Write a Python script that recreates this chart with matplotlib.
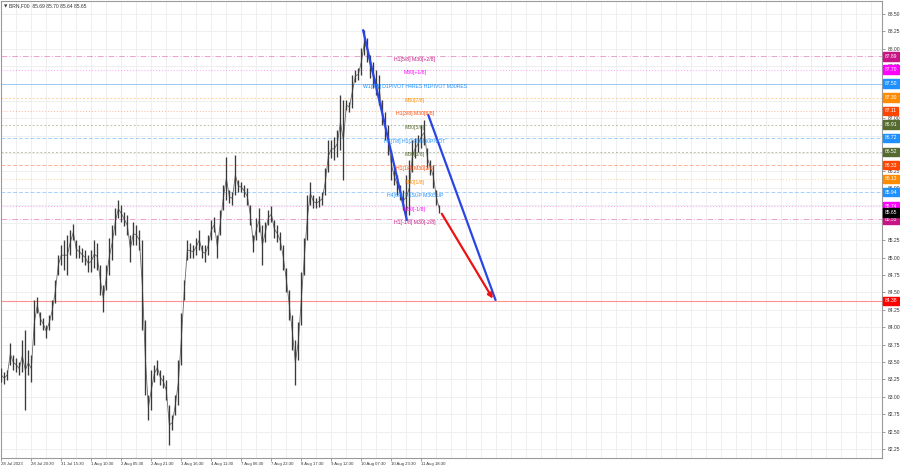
import matplotlib
matplotlib.use("Agg")
import matplotlib.pyplot as plt
import matplotlib.transforms as mtransforms
import numpy as np

# ---------------- data ----------------
bar_high = [83.41, 83.36, 83.39, 83.77, 83.60, 83.56, 83.50, 83.82, 83.96, 83.67,
            83.60, 84.39, 84.43, 84.22, 84.13, 84.03, 84.18, 84.39, 84.68, 85.04,
            85.18, 85.25, 85.32, 85.40, 85.48, 85.25, 85.18, 85.14, 85.11, 85.04,
            85.11, 85.25, 85.21, 84.89, 84.61, 84.89, 85.28, 85.47, 85.71, 85.83,
            85.76, 85.65, 85.61, 85.32, 85.51, 85.47, 85.40, 85.25, 84.10, 83.03,
            83.39, 83.46, 83.53, 83.39, 83.31, 83.24, 82.88, 82.74, 83.03, 83.53,
            84.20, 84.68, 85.25, 85.21, 85.18, 85.28, 85.40, 85.18, 85.18, 85.32,
            85.54, 85.58, 85.32, 85.68, 86.04, 86.45, 85.97, 85.94, 86.47, 86.12,
            86.09, 86.04, 86.00, 85.76, 85.32, 85.57, 85.71, 85.47, 85.51, 85.68,
            85.74, 85.54, 85.47, 85.37, 85.18, 84.85, 84.53, 84.18, 83.82, 84.07,
            84.79, 85.28, 85.90, 86.09, 85.90, 85.86, 85.89, 85.94, 86.29, 86.69,
            86.69, 86.73, 86.83, 87.34, 87.26, 87.26, 87.24, 87.62, 87.70, 87.72,
            88.01, 88.27, 88.16, 87.91, 87.81, 87.70, 87.62, 87.26, 87.09, 86.91,
            86.55, 86.29, 86.19, 86.04, 85.97, 86.19, 86.40, 86.69, 86.72, 86.76,
            86.91, 86.98, 86.57, 86.40, 86.33, 85.97, 85.76]
bar_low = [83.21, 83.18, 83.24, 83.46, 83.39, 83.36, 83.31, 83.36, 82.81, 83.31,
           83.21, 83.74, 84.20, 84.03, 83.96, 83.85, 83.96, 84.10, 84.35, 84.75,
           84.89, 84.82, 84.75, 85.04, 85.25, 84.99, 84.99, 84.94, 84.89, 84.79,
           84.79, 84.85, 84.82, 84.46, 84.22, 84.53, 84.75, 84.97, 85.32, 85.57,
           85.51, 85.45, 85.32, 84.94, 85.18, 85.18, 85.11, 83.96, 83.03, 82.67,
           82.81, 83.21, 83.31, 83.17, 83.13, 82.95, 82.31, 82.52, 82.74, 82.88,
           83.46, 84.39, 84.97, 84.99, 84.99, 85.04, 85.11, 84.99, 84.94, 85.04,
           85.25, 85.37, 84.99, 85.32, 85.68, 85.83, 85.78, 85.76, 85.90, 85.94,
           85.94, 85.87, 85.76, 85.47, 85.08, 85.25, 85.37, 84.89, 85.22, 85.47,
           85.51, 85.28, 85.22, 85.11, 84.82, 84.51, 84.10, 83.67, 83.17, 83.53,
           84.03, 84.75, 85.25, 85.76, 85.71, 85.71, 85.73, 85.76, 85.90, 86.23,
           86.43, 86.40, 86.45, 86.55, 86.12, 87.12, 87.09, 87.15, 87.52, 87.55,
           87.62, 87.91, 87.81, 87.58, 87.44, 87.34, 87.19, 86.91, 86.69, 86.47,
           86.12, 86.04, 85.90, 85.83, 85.68, 85.54, 85.61, 86.23, 86.43, 86.52,
           86.57, 86.62, 86.29, 86.19, 86.00, 85.76, 85.64]

time_labels = ["28 Jul 2023", "28 Jul 20:30", "31 Jul 15:30", "1 Aug 10:30",
               "2 Aug 05:30", "2 Aug 21:30", "3 Aug 16:30", "4 Aug 11:30",
               "7 Aug 06:30", "7 Aug 22:30", "8 Aug 17:30", "9 Aug 12:30",
               "10 Aug 07:30", "10 Aug 23:30", "11 Aug 18:30"]
time_label_bars = [0, 10, 20, 30, 40, 50, 60, 70, 80, 90, 100, 110, 120, 130, 140]

level_prices = [87.89, 87.70, 87.50, 87.30, 87.11, 86.91, 86.72, 86.52,
                86.33, 86.13, 85.94, 85.74, 85.55]
level_names = ["H1[5/8] M30[+2/8]", "M30[+1/8]",
               "W1[5/8] D1PIVOT H4RES H1PIVOT M30RES", "M30[7/8]",
               "H1[3/8] M30[6/8]", "M30[5/8]", "H4[7/8] H1[2/8] M30PIVOT",
               "M30[3/8]", "H1[1/8] M30[2/8]", "M30[1/8]",
               "H4[6/8] H1SUP M30SUP", "M30[-1/8]", "H1[-1/8] M30[-2/8]"]
level_colors = ["#C71585", "#FF00FF", "#1E90FF", "#FF8C00", "#FF4500", "#556B2F",
                "#1E90FF", "#556B2F", "#FF4500", "#FF8C00", "#1E90FF", "#FF00FF",
                "#C71585"]
level_styles = [(0, (6, 2, 1, 2)), (0, (1, 2)), "-", (0, (2, 2)), (0, (1, 2)),
                (0, (2, 2)), (0, (4, 2)), (0, (2, 2)), (0, (4, 2)), (0, (1, 2)),
                (0, (4, 2)), (0, (1, 2)), (0, (6, 2, 1, 2))]

target_price = 84.38
current_price = 85.65
ohlc_title = "BRN,F00  85.69 85.70 85.64 85.65"

trend1_bars = [120.5, 135.2]
trend1_prices = [88.28, 85.53]
trend2_bars = [142.2, 164.8]
trend2_prices = [87.06, 84.38]
arrow_bars = [146.8, 163.8]
arrow_prices = [85.63, 84.41]

# ---------------- figure ----------------
W, H = 900, 468
fig = plt.figure(figsize=(W / 100, H / 100), dpi=100)
ax = fig.add_axes([1 / W, 10 / H, 881 / W, 457 / H])
ax.set_facecolor("white")

xmin, xmax = -0.1, 293.5
ymin, ymax = 82.121, 88.687
ax.set_xlim(xmin, xmax)
ax.set_ylim(ymin, ymax)

# grid
for gx in np.arange(0, xmax, 5):
    ax.axvline(gx, color="#ededed", lw=0.6, zorder=0)
yt = np.arange(82.25, 88.51, 0.25)
for gy in yt:
    ax.axhline(gy, color="#ededed", lw=0.6, zorder=0)

# level lines and texts
for p, name, c, ls in zip(level_prices, level_names, level_colors, level_styles):
    ax.axhline(p, color=c, lw=0.7, ls=ls, alpha=0.4, zorder=1)
    ax.text(137.8, p - 0.045, name, color=c, fontsize=3.7, ha="center",
            va="center", family="Liberation Sans", zorder=5)

ax.axhline(target_price, color="#ff9090", lw=0.8, zorder=1)

# bars
hi = np.array(bar_high)
lo = np.array(bar_low)
idx = np.arange(len(hi))
ax.vlines(idx, lo, hi, color="#3a3a3a", lw=0.95, zorder=3)
ax.plot(idx, (hi + lo) / 2, color="#6a6a6a", lw=0.6, zorder=2)

# trend lines
ax.plot(trend1_bars, trend1_prices, color="#2a45e6", lw=1.6, zorder=4,
        solid_capstyle="butt")
ax.plot(trend2_bars, trend2_prices, color="#2a45e6", lw=1.6, zorder=4,
        solid_capstyle="butt")
ax.annotate("", xy=(arrow_bars[1], arrow_prices[1]),
            xytext=(arrow_bars[0], arrow_prices[0]),
            arrowprops=dict(arrowstyle="-|>", color="#ee1111", lw=1.6,
                            mutation_scale=7, shrinkA=0, shrinkB=0), zorder=4)

# axes styling
for s in ax.spines.values():
    s.set_color("#9a9a9a")
    s.set_linewidth(0.8)

ax.yaxis.tick_right()
ax.set_yticks(yt)
ax.set_yticklabels([f"{v:.2f}" for v in yt])
ax.tick_params(axis="y", length=2, width=0.5, color="#777777", pad=2,
               labelsize=3.6, labelcolor="#333333")
ax.set_xticks(time_label_bars)
ax.set_xticklabels(time_labels, ha="left")
ax.tick_params(axis="x", length=2, width=0.5, color="#777777", pad=1,
               labelsize=3.1, labelcolor="#333333")
for lab in ax.get_xticklabels() + ax.get_yticklabels():
    lab.set_family("Liberation Sans")

# right colored price labels
trans = mtransforms.blended_transform_factory(ax.transAxes, ax.transData)
box_prices = level_prices + [current_price, target_price]
box_colors = level_colors + ["#000000", "#ff0000"]
for p, c in zip(box_prices, box_colors):
    ax.text(1.003, p, f"{p:.2f}", transform=trans, color="white", fontsize=3.6,
            ha="left", va="center", family="Liberation Sans", zorder=10,
            bbox=dict(facecolor=c, edgecolor=c, boxstyle="square,pad=0.35"),
            clip_on=False)

# title
ax.text(0.003, 0.993, "\u25BC", transform=ax.transAxes, fontsize=3.2,
        ha="left", va="top", color="#333333")
ax.text(0.009, 0.994, ohlc_title, transform=ax.transAxes, fontsize=3.6,
        ha="left", va="top", color="#333333", family="Liberation Sans")

fig.savefig("out.png", dpi=100, facecolor="white")
